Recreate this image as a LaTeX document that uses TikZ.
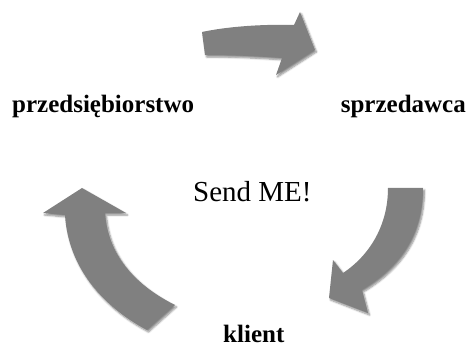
\documentclass[tikz,border=0pt]{standalone}
\usepackage{fontspec}
\setmainfont{Liberation Serif}
\usetikzlibrary{shadows.blur}
\definecolor{arrowgray}{RGB}{128,128,128}
\tikzset{
  bigarrow/.style={fill=arrowgray, draw=none,
    blur shadow={shadow xshift=1.5pt, shadow yshift=-2pt, shadow blur steps=6, shadow opacity=45}},
  lbl/.style={font=\fontsize{25}{28}\selectfont\bfseries, inner sep=0pt, anchor=base west},
}
\begin{document}
\begin{tikzpicture}[x=1pt,y=-1pt]
\useasboundingbox (0,0) rectangle (469,350);
% top arrow
\path[bigarrow] (202,32) .. controls (225,27) and (260,24) .. (294,25)
  -- (300,12) -- (315,50) -- (276,75) -- (282,58)
  .. controls (255,56) and (230,55) .. (205,55) -- cycle;
% right arrow
\path[bigarrow] (388,188) -- (423,188)
  .. controls (423,240) and (395,270) .. (362,290)
  -- (368,313) -- (329,298) -- (333,260) -- (343,273)
  .. controls (370,255) and (388,225) .. (388,188) -- cycle;
% left arrow
\path[bigarrow] (82,188) -- (126,213) -- (105,213)
  .. controls (108,255) and (135,285) .. (175,305)
  -- (147,330)
  .. controls (100,305) and (68,265) .. (65,215)
  -- (43,213) -- cycle;
\node[lbl] (firm) at (12,113) {przedsiębiorstwo};
\node[lbl, anchor=base east] (seller) at (466,113) {sprzedawca};
\node[lbl] (client) at (223,342) {klient};
\node[inner sep=0pt, anchor=base west, font=\fontsize{29}{32}\selectfont] (send) at (193,202) {Send ME!};
\end{tikzpicture}
\end{document}
